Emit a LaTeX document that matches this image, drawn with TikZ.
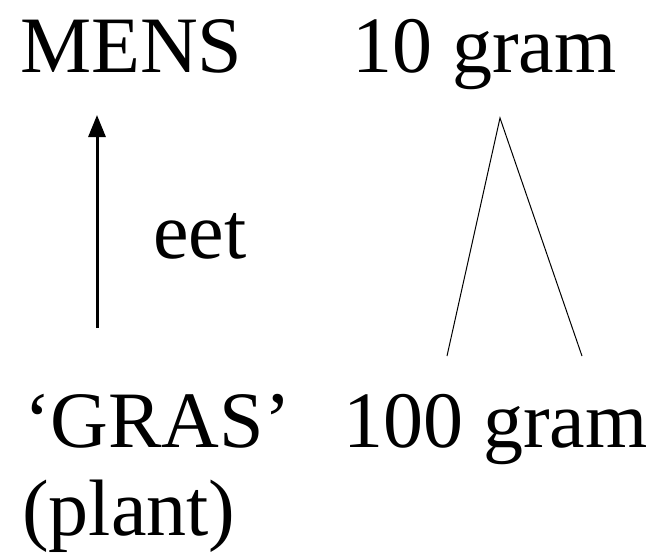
\documentclass[tikz,border=0pt]{standalone}
\usepackage{fontspec}
\setmainfont{Liberation Serif}
\usetikzlibrary{arrows.meta,positioning,calc}

\begin{document}
\begin{tikzpicture}[
    x=1pt, y=-1pt,
    label/.style={anchor=base west, inner sep=0pt, font=\fontsize{80}{96}\selectfont},
    arrow/.style={-{Triangle[width=17pt,length=22pt]}, line width=3pt},
    leg/.style={line width=1pt}
]
    \useasboundingbox (0,0) rectangle (665,558);

    % Levels
    \node[label] (mens) at (20,72) {MENS};
    \node[label] (top) at (352,72) {10 gram};
    \node[label] (gras) at (24,447) {‘GRAS’};
    \node[label] (bottom) at (343,447) {100 gram};
    \node[label] (plant) at (22,535) {(plant)};

    % Food step
    \coordinate (eatfrom) at (97,328);
    \coordinate (eatto) at (97,115);
    \draw[arrow] (eatfrom) -- (eatto);
    \node[label] (eet) at (153,258) {eet};

    % Pyramid
    \coordinate (apex) at (500,118);
    \coordinate (baseleft) at (447,356);
    \coordinate (baseright) at (582,356);
    \draw[leg] (baseleft) -- (apex) -- (baseright);
\end{tikzpicture}
\end{document}
